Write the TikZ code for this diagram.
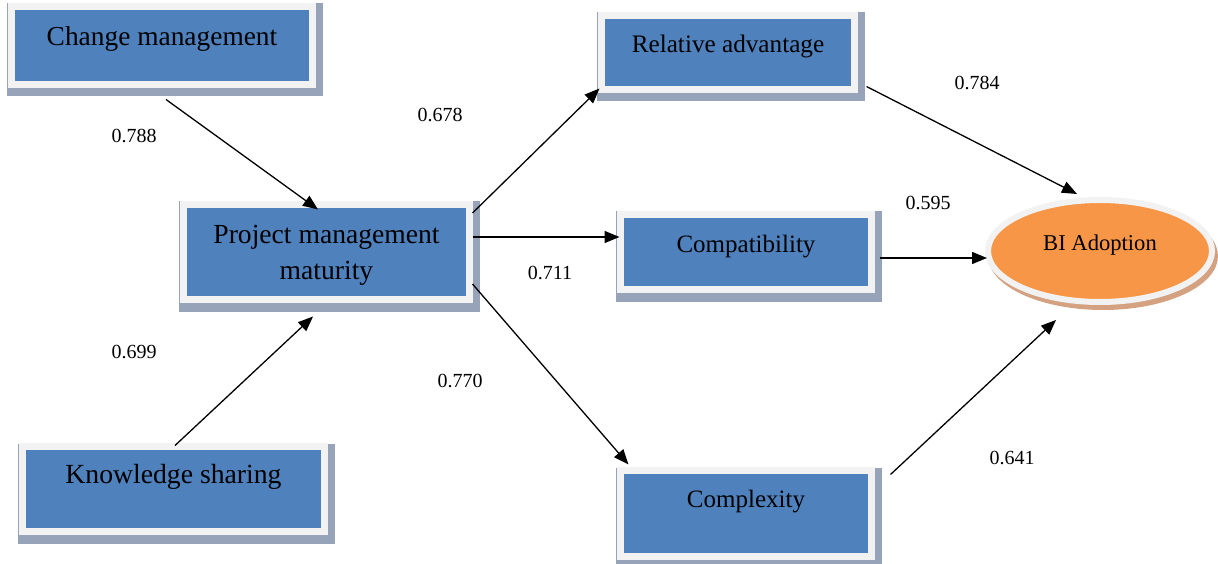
\documentclass[tikz,border=0pt]{standalone}
\usepackage{fontspec}
\setmainfont{Liberation Serif}
\usetikzlibrary{arrows.meta,backgrounds,shapes.geometric}
\definecolor{boxblue}{HTML}{4F81BD}
\definecolor{framegray}{HTML}{F2F2F2}
\definecolor{shadowblue}{RGB}{150,163,184}
\definecolor{biorange}{HTML}{F79646}
\definecolor{bishadow}{RGB}{212,162,128}
\tikzset{
  box/.style={rectangle, fill=boxblue, draw=framegray, line width=7pt, inner sep=0pt, text=black},
  onelinetext/.style={text height=14pt, text depth=14pt},
  highertext/.style={text height=14pt, text depth=26pt},
  adopt/.style={ellipse, fill=biorange, draw=framegray, line width=6pt, inner sep=0pt, text=black},
  link/.style={line width=1.3pt, -{Triangle[length=15pt,width=12pt]}},
  weight/.style={font=\fontsize{20}{24}\selectfont, inner sep=0pt},
}
\begin{document}
\begin{tikzpicture}[x=1pt,y=-1pt]
\useasboundingbox (0,0) rectangle (1218,564);
% boxes
\node[box, minimum width=301pt, minimum height=78pt, onelinetext, font=\fontsize{27.4}{32}\selectfont] (cm) at (162,45.5) {Change management};
\node[box, minimum width=286pt, minimum height=95pt, align=center, text height=62pt, text depth=7pt, font=\fontsize{27.6}{36}\selectfont] (pmm) at (326.5,252) {Project management\\maturity};
\node[box, minimum width=302pt, minimum height=85pt, highertext, font=\fontsize{27.7}{33}\selectfont] (ks) at (173.5,489) {Knowledge sharing};
\node[box, minimum width=253pt, minimum height=74pt, onelinetext, font=\fontsize{25.2}{30}\selectfont] (ra) at (728,52.5) {Relative advantage};
\node[box, minimum width=251pt, minimum height=75pt, onelinetext, font=\fontsize{25}{30}\selectfont] (co) at (746,252) {Compatibility};
\node[box, minimum width=251pt, minimum height=86pt, highertext, font=\fontsize{25}{30}\selectfont] (cx) at (746,513.5) {Complexity};
\node[adopt, minimum width=224pt, minimum height=102pt, onelinetext, font=\fontsize{22.6}{27}\selectfont] (bi) at (1100,251) {BI Adoption};
% shadows
\begin{pgfonlayer}{background}
\foreach \n in {cm,pmm,ks,ra,co,cx}
  \fill[shadowblue] ([shift={(-1.5,0.5)}]\n.north west) rectangle ([shift={(6.5,8.5)}]\n.south east);
\fill[bishadow] ([shift={(3,5)}]bi.center) ellipse [x radius=115pt, y radius=54pt];
\end{pgfonlayer}
% connectors
\draw[link] ([shift={(4,11.5)}]cm.south) -- ([shift={(-8.5,8.5)}]pmm.north);
\draw[link] ([shift={(1.5,2.5)}]ks.north) -- ([shift={(-13.5,13.5)}]pmm.south);
\draw[link] ([shift={(-0.5,-39)}]pmm.east) -- ([shift={(1.5,-4.5)}]ra.south west);
\draw[link] ([shift={(-0.5,-15)}]pmm.east) -- ([shift={(2.5,-15)}]co.west);
\draw[link] ([shift={(-0.5,32)}]pmm.east) -- ([shift={(11.5,-2.5)}]cx.north west);
\draw[link] ([shift={(8.5,-6.5)}]ra.south east) -- ([shift={(-23,-3)}]bi.north);
\draw[link] ([shift={(4.5,6)}]co.east) -- ([shift={(2,7)}]bi.west);
\draw[link] ([shift={(15.5,7.5)}]cx.north east) -- ([shift={(-44,15)}]bi.south);
% weights
\node[weight] (w1) at (134,136) {0.788};
\node[weight] (w2) at (134,352) {0.699};
\node[weight] (w3) at (440,115) {0.678};
\node[weight] (w4) at (550,273) {0.711};
\node[weight] (w5) at (460,381) {0.770};
\node[weight] (w6) at (977,83) {0.784};
\node[weight] (w7) at (928,203) {0.595};
\node[weight] (w8) at (1012,458) {0.641};
\end{tikzpicture}
\end{document}
